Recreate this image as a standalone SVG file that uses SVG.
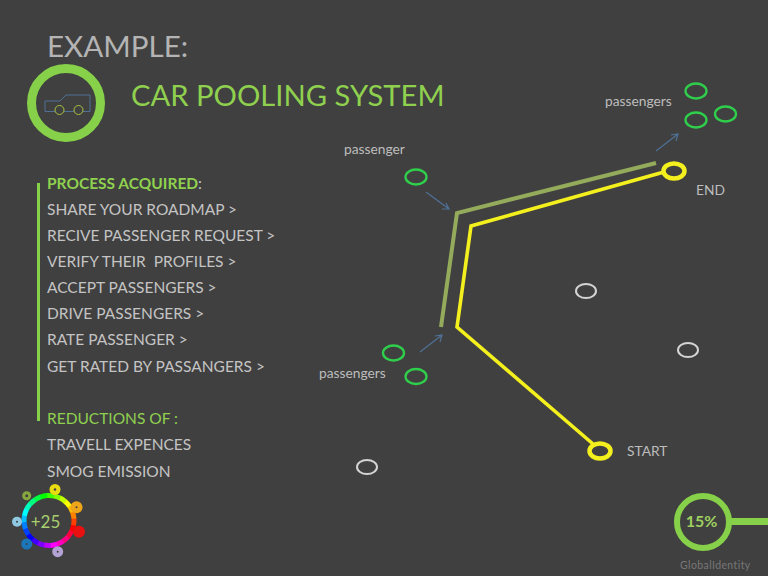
<svg xmlns="http://www.w3.org/2000/svg" width="768" height="576" viewBox="0 0 768 576">
<style>
text{font-family:Lato,"Liberation Sans",sans-serif}
.list{font-size:15.500px;fill:#c4c4c4}
.green{fill:#8fd14f}
.lab{font-size:13.800px;fill:#bdbdbd}
.p{fill:none;stroke:#2fcf4c;stroke-width:2.300}
.w{fill:none;stroke:#d4d4d4;stroke-width:2}
.arr{fill:none;stroke:#4f7196;stroke-width:1.200}
.seg{fill:none;stroke-width:5;stroke-dasharray:16 344}
.dot{fill:#404040}
</style>
<rect width="768" height="576" fill="#404040"/>
<text x="47" y="57" font-size="29.600" fill="#b4b4b4">EXAMPLE:</text>
<text x="131" y="106" font-size="29.200" class="green">CAR POOLING SYSTEM</text>
<g id="car-icon">
<circle cx="66" cy="103" r="34.500" fill="none" stroke="#86d04a" stroke-width="9"/>
<path d="M45 111.500V101H60L66 95H90V111.500Z" fill="none" stroke="#4f7196" stroke-width="1"/>
<circle cx="59.500" cy="110" r="4.500" fill="#404040" stroke="#a9c23f" stroke-width="1"/>
<circle cx="78.500" cy="110" r="4.500" fill="#404040" stroke="#a9c23f" stroke-width="1"/>
</g>
<g id="process-list">
<rect x="37" y="183" width="3" height="238" fill="#86d04a"/>
<text x="47" y="189" class="list"><tspan class="green" font-weight="700">PROCESS ACQUIRED</tspan>:</text>
<text x="47" y="215" class="list">SHARE YOUR ROADMAP &gt;</text>
<text x="47" y="241" class="list">RECIVE PASSENGER REQUEST &gt;</text>
<text x="47" y="267" class="list" xml:space="preserve">VERIFY THEIR  PROFILES &gt;</text>
<text x="47" y="293" class="list">ACCEPT PASSENGERS &gt;</text>
<text x="47" y="319" class="list">DRIVE PASSENGERS &gt;</text>
<text x="47" y="345" class="list">RATE PASSENGER &gt;</text>
<text x="47" y="372" class="list">GET RATED BY PASSANGERS &gt;</text>
<text x="47" y="424" class="list green">REDUCTIONS OF :</text>
<text x="47" y="450" class="list">TRAVELL EXPENCES</text>
<text x="47" y="477" class="list">SMOG EMISSION</text>
</g>
<g id="connectors">
<path d="M441 327L457 213L656 163" fill="none" stroke="#94ab5c" stroke-width="4"/>
<path d="M600 450L457 327L471 226L664 172" fill="none" stroke="#f4f01e" stroke-width="3.600"/>
<path id="a1" class="arr" d="M426 192L449 209M442 209L449 209L446 203"/>
<path id="a2" class="arr" d="M420 352L442 335M435 336L442 335L440 342"/>
<path id="a3" class="arr" d="M656 151L678 134M671 135L678 134L676 141"/>
</g>
<g id="start"><ellipse cx="600" cy="451" rx="10.500" ry="7.500" fill="#404040" stroke="#f4f01e" stroke-width="4.500"/><text x="627" y="456" class="lab" font-size="13">START</text></g>
<g id="end"><ellipse cx="674" cy="171" rx="10.500" ry="7.500" fill="#404040" stroke="#f4f01e" stroke-width="4.500"/><text x="696" y="195" class="lab">END</text></g>
<g id="passenger-top"><ellipse class="p" cx="416" cy="177" rx="10.500" ry="7.500"/><text x="344" y="154" class="lab">passenger</text></g>
<g id="passengers-left"><ellipse class="p" cx="393.500" cy="353" rx="10.500" ry="7.500"/><ellipse class="p" cx="416" cy="376.500" rx="10.500" ry="7.500"/><text x="319" y="378" class="lab">passengers</text></g>
<g id="passengers-right"><ellipse class="p" cx="696" cy="91" rx="10.500" ry="7.500"/><ellipse class="p" cx="696" cy="120" rx="10.500" ry="7.500"/><ellipse class="p" cx="725.500" cy="114" rx="10.500" ry="7.500"/><text x="605" y="106" class="lab">passengers</text></g>
<g id="others"><ellipse class="w" cx="586" cy="291" rx="10" ry="7"/><ellipse class="w" cx="688" cy="350" rx="10" ry="7"/><ellipse class="w" cx="367" cy="467" rx="10" ry="7"/></g>
<g id="score-25">
<g transform="translate(49 520.500)">
<circle class="seg" r="25" stroke="hsl(0,100%,50%)" pathLength="360" transform="rotate(10)"/>
<circle class="seg" r="25" stroke="hsl(15,100%,50%)" pathLength="360" transform="rotate(-5)"/>
<circle class="seg" r="25" stroke="hsl(30,100%,50%)" pathLength="360" transform="rotate(-20)"/>
<circle class="seg" r="25" stroke="hsl(45,100%,50%)" pathLength="360" transform="rotate(-35)"/>
<circle class="seg" r="25" stroke="hsl(60,100%,50%)" pathLength="360" transform="rotate(-50)"/>
<circle class="seg" r="25" stroke="hsl(75,100%,50%)" pathLength="360" transform="rotate(-65)"/>
<circle class="seg" r="25" stroke="hsl(90,100%,50%)" pathLength="360" transform="rotate(-80)"/>
<circle class="seg" r="25" stroke="hsl(105,100%,50%)" pathLength="360" transform="rotate(-95)"/>
<circle class="seg" r="25" stroke="hsl(120,100%,50%)" pathLength="360" transform="rotate(-110)"/>
<circle class="seg" r="25" stroke="hsl(135,100%,50%)" pathLength="360" transform="rotate(-125)"/>
<circle class="seg" r="25" stroke="hsl(150,100%,50%)" pathLength="360" transform="rotate(-140)"/>
<circle class="seg" r="25" stroke="hsl(165,100%,50%)" pathLength="360" transform="rotate(-155)"/>
<circle class="seg" r="25" stroke="hsl(180,100%,50%)" pathLength="360" transform="rotate(-170)"/>
<circle class="seg" r="25" stroke="hsl(195,100%,50%)" pathLength="360" transform="rotate(-185)"/>
<circle class="seg" r="25" stroke="hsl(210,100%,50%)" pathLength="360" transform="rotate(-200)"/>
<circle class="seg" r="25" stroke="hsl(225,100%,50%)" pathLength="360" transform="rotate(-215)"/>
<circle class="seg" r="25" stroke="hsl(240,100%,50%)" pathLength="360" transform="rotate(-230)"/>
<circle class="seg" r="25" stroke="hsl(255,100%,50%)" pathLength="360" transform="rotate(-245)"/>
<circle class="seg" r="25" stroke="hsl(270,100%,50%)" pathLength="360" transform="rotate(-260)"/>
<circle class="seg" r="25" stroke="hsl(285,100%,50%)" pathLength="360" transform="rotate(-275)"/>
<circle class="seg" r="25" stroke="hsl(300,100%,50%)" pathLength="360" transform="rotate(-290)"/>
<circle class="seg" r="25" stroke="hsl(315,100%,50%)" pathLength="360" transform="rotate(-305)"/>
<circle class="seg" r="25" stroke="hsl(330,100%,50%)" pathLength="360" transform="rotate(-320)"/>
<circle class="seg" r="25" stroke="hsl(345,100%,50%)" pathLength="360" transform="rotate(-335)"/>
</g>
<circle cx="55" cy="489.500" r="5.500" fill="#e8dc10"/><circle class="dot" cx="55" cy="489.500" r="1.200"/>
<circle cx="76.500" cy="507.300" r="6" fill="#eda51a"/><circle class="dot" cx="76.500" cy="507.300" r="1"/>
<circle cx="79" cy="531.700" r="6" fill="#e81010"/>
<circle cx="57.700" cy="551.700" r="5.500" fill="#b3a2d4"/><circle class="dot" cx="57.700" cy="551.700" r="1"/>
<circle cx="26.700" cy="544" r="5.500" fill="#1a76b8"/><circle class="dot" cx="26.700" cy="544" r="1"/>
<circle cx="17" cy="521.700" r="5" fill="#8fc8e0"/><circle class="dot" cx="17" cy="521.700" r="1"/>
<circle cx="26.700" cy="495.700" r="4.500" fill="#86a83e"/><circle class="dot" cx="26.700" cy="495.700" r="1.500"/>
<text x="45.500" y="527.500" font-size="17" text-anchor="middle" fill="#a8cf6f">+25</text>
</g>
<g id="score-15">
<rect x="730" y="518" width="38" height="7" fill="#86d04a"/>
<circle cx="703" cy="522" r="26" fill="#404040" stroke="#86d04a" stroke-width="6"/>
<text x="701.500" y="527" font-size="16" font-weight="700" text-anchor="middle" fill="#9fd05f">15%</text>
<text x="680" y="569" font-size="10.500" letter-spacing="0.400" fill="#777">GlobalIdentity</text>
</g>
</svg>
